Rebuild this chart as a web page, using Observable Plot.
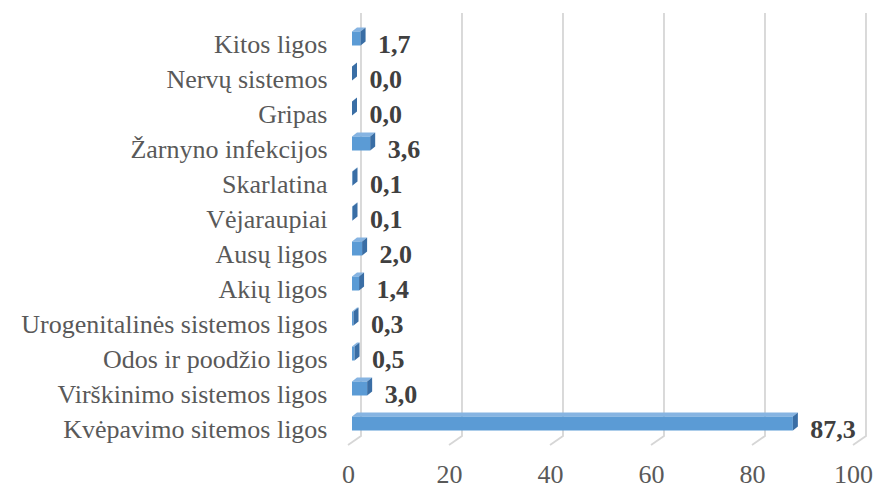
<!DOCTYPE html>
<html>
<head>
<meta charset="utf-8">
<script src="https://cdn.jsdelivr.net/npm/d3@7"></script>
<script src="https://cdn.jsdelivr.net/npm/@observablehq/plot@0.6"></script>
<style>
  html, body { margin: 0; padding: 0; background: #fff; }
  #chart svg text { font-family: "Liberation Serif", "Times New Roman", serif !important; }
</style>
</head>
<body>
<div id="chart"></div>
<script>
const categories = [
  "Kitos ligos",
  "Nervų sistemos",
  "Gripas",
  "Žarnyno infekcijos",
  "Skarlatina",
  "Vėjaraupiai",
  "Ausų ligos",
  "Akių ligos",
  "Urogenitalinės sistemos ligos",
  "Odos ir poodžio ligos",
  "Virškinimo sistemos ligos",
  "Kvėpavimo sitemos ligos"
];
const values = [1.7, 0.0, 0.0, 3.6, 0.1, 0.1, 2.0, 1.4, 0.3, 0.5, 3.0, 87.3];
const xTicks = [0, 20, 40, 60, 80, 100];

const data = categories.map((name, i) => ({name, value: values[i]}));
const fmt = v => v.toFixed(1).replace(".", ",");

const FRONT = "#5b9bd5", SIDE = "#3a6ea5", TOP = "#86b4e2";
const DEPTH_X = 5, DEPTH_Y = 4, BAR_H = 14, BAR_SHIFT = -5.5, BAR_DX = 4;
const WALL_X = 13;

const chart = Plot.plot({
  width: 877,
  height: 488,
  marginLeft: 348,
  marginRight: 24,
  marginTop: 22,
  marginBottom: 37,
  style: {fontFamily: "'Liberation Serif', 'Times New Roman', serif", fontSize: "26px", color: "#595959", background: "#fff"},
  x: {domain: [0, 100], ticks: xTicks, label: null},
  y: {domain: categories, label: null, padding: 0.1},
  marks: [
    // back-wall gridlines with floor diagonals
    Plot.ruleX(xTicks, {
      x: d => d,
      render: (index, scales, values, dims) => {
        const g = d3.create("svg:g");
        const yTop = dims.marginTop - 9;
        const yBot = dims.height - dims.marginBottom - 15;
        const yFloor = dims.height - dims.marginBottom - 6;
        for (const i of index) {
          const X = values.x[i];
          g.append("path")
            .attr("d", `M${X + WALL_X},${yTop}L${X + WALL_X},${yBot}L${X},${yFloor}`)
            .attr("fill", "none")
            .attr("stroke", "#d6d6d6")
            .attr("stroke-width", 1.8);
        }
        return g.node();
      }
    }),
    Plot.axisX({ticks: xTicks, tickSize: 0, tickPadding: 13, fontSize: 26, tickFormat: d => d}),
    Plot.axisY({tickSize: 0, tickPadding: 21, fontSize: 26}),
    // 3D bars
    Plot.barX(data, {
      x: "value",
      y: "name",
      render: (index, scales, values) => {
        const g = d3.create("svg:g");
        const bw = scales.y.bandwidth ? scales.y.bandwidth() : 0;
        for (const i of index) {
          const x0 = values.x1[i] + BAR_DX;
          const x1 = values.x2[i] + BAR_DX;
          const yc = values.y[i] + bw / 2 + BAR_SHIFT;
          const yt = yc - BAR_H / 2, yb = yc + BAR_H / 2;
          g.append("polygon")
            .attr("points", `${x0},${yt} ${x1},${yt} ${x1 + DEPTH_X},${yt - DEPTH_Y} ${x0 + DEPTH_X},${yt - DEPTH_Y}`)
            .attr("fill", TOP);
          g.append("rect")
            .attr("x", x0).attr("y", yt)
            .attr("width", Math.max(0, x1 - x0)).attr("height", BAR_H)
            .attr("fill", FRONT);
          g.append("polygon")
            .attr("points", `${x1},${yt} ${x1},${yb} ${x1 + DEPTH_X},${yb - DEPTH_Y} ${x1 + DEPTH_X},${yt - DEPTH_Y}`)
            .attr("fill", SIDE);
        }
        return g.node();
      }
    }),
    Plot.text(data, {
      x: "value",
      y: "name",
      text: d => fmt(d.value),
      dx: 21,
      textAnchor: "start",
      fontWeight: "bold",
      fontSize: 26,
      fill: "#404040"
    })
  ]
});

document.getElementById("chart").appendChild(chart);
</script>
</body>
</html>
